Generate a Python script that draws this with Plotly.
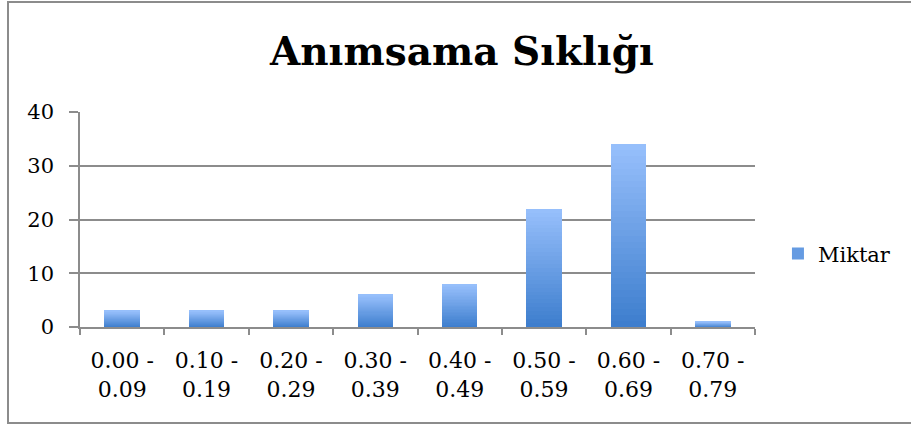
import plotly.graph_objects as go

categories = ["0.00 -<br>0.09", "0.10 -<br>0.19", "0.20 -<br>0.29", "0.30 -<br>0.39",
              "0.40 -<br>0.49", "0.50 -<br>0.59", "0.60 -<br>0.69", "0.70 -<br>0.79"]
values = [3, 3, 3, 6, 8, 22, 34, 1]
series_name = "Miktar"
title_text = "Anımsama Sıklığı"

FONT = "DejaVu Serif"
N_SEG = 30
bottom_rgb = (60, 125, 205)
top_rgb = (152, 192, 252)

def mix(t):
    return "rgb(%d,%d,%d)" % tuple(round(b + (tp - b) * t) for b, tp in zip(bottom_rgb, top_rgb))

fig = go.Figure()
for i in range(N_SEG):
    t = (i + 0.5) / N_SEG
    fig.add_trace(go.Bar(
        x=categories, y=[v / N_SEG for v in values],
        marker=dict(color=mix(t), line=dict(width=0)),
        showlegend=False, hoverinfo="skip", width=0.42,
    ))
# legend entry
fig.add_trace(go.Bar(x=[categories[0]], y=[0], name=series_name,
                     marker=dict(color=mix(0.45), line=dict(width=0)),
                     showlegend=True, hoverinfo="skip", width=0.42))

fig.update_layout(
    barmode="stack",
    width=911, height=425,
    margin=dict(l=80, r=156, t=112, b=98),
    paper_bgcolor="white", plot_bgcolor="white",
    font=dict(family=FONT, size=21, color="black"),
    title=dict(text="<b>" + title_text + "</b>", x=0.507, xanchor="center",
               y=0.88, yanchor="middle", font=dict(family=FONT, size=39, color="black")),
    showlegend=True,
    legend=dict(x=1.034, y=0.34, xanchor="left", yanchor="middle",
                font=dict(family=FONT, size=21), itemwidth=30,
                bgcolor="rgba(0,0,0,0)"),
    xaxis=dict(type="category", showline=True, linecolor="#8c8c8c", linewidth=1.5,
               ticks="outside", tickson="boundaries", ticklen=6, tickcolor="#8c8c8c",
               tickwidth=1.5, showgrid=False, tickfont=dict(family=FONT, size=22),
               ticklabelstandoff=13),
    yaxis=dict(range=[0, 40], dtick=10, showline=True, linecolor="#8c8c8c", linewidth=1.5,
               ticks="outside", ticklen=9, tickcolor="#8c8c8c", tickwidth=1.5,
               showgrid=True, gridcolor="#8c8c8c", gridwidth=1.5, zeroline=False,
               tickfont=dict(family=FONT, size=21), ticklabelstandoff=11),
    shapes=[dict(type="rect", xref="paper", yref="paper",
                 x0=-72 / 675, x1=1.26, y0=-96 / 215, y1=1 + 110 / 215,
                 line=dict(color="#8c8c8c", width=2), fillcolor="rgba(0,0,0,0)")],
)

fig.write_html("out.html", config={"displayModeBar": False},
               post_script="document.body.style.margin='0';")
